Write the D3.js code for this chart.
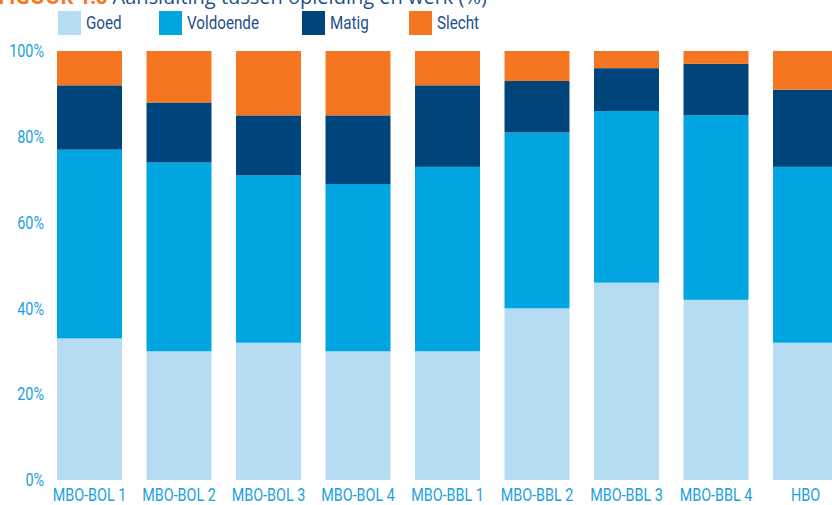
<!DOCTYPE html>
<meta charset="utf-8">
<style>
  body { margin: 0; background: #fff; }
  text { font-family: Roboto, "Noto Sans", sans-serif; }
</style>
<svg width="832" height="505"></svg>
<script src="https://d3js.org/d3.v7.min.js"></script>
<script>

var categories = ["MBO-BOL 1", "MBO-BOL 2", "MBO-BOL 3", "MBO-BOL 4", "MBO-BBL 1", "MBO-BBL 2", "MBO-BBL 3", "MBO-BBL 4", "HBO"];
var seriesNames = ["Goed", "Voldoende", "Matig", "Slecht"];
var goed      = [33, 30, 32, 30, 30, 40, 46, 42, 32];
var voldoende = [44, 44, 39, 39, 43, 41, 40, 43, 41];
var matig     = [15, 14, 14, 16, 19, 12, 10, 12, 18];
var slecht    = [ 8, 12, 15, 15,  8,  7,  4,  3,  9];
var yTicks = [0, 20, 40, 60, 80, 100];

var colors = ["#b5dcf3", "#00a5e2", "#00447c", "#f47621"];
var tickColor = "#1ba1dd";
var legendText = "#1e4f8a";
var squeeze = "scale(0.8,1)"; // the original uses a condensed face

var svg = d3.select("svg");

var rows = categories.map(function(c, i) {
  return { cat: c, Goed: goed[i], Voldoende: voldoende[i], Matig: matig[i], Slecht: slecht[i] };
});

var x = d3.scaleBand()
    .domain(categories)
    .range([44.75, 44.75 + 9 * 89.5])
    .paddingInner(0.274)
    .paddingOuter(0.137);

var y = d3.scaleLinear()
    .domain([0, 100])
    .range([480, 51]);

var layers = d3.stack().keys(seriesNames)(rows);

// title, mostly cut off at the top like the source
var title = svg.append("text")
    .attr("x", -2)
    .attr("y", 4)
    .style("font-family", "'Open Sans', sans-serif")
    .style("font-size", "20px");
title.append("tspan").attr("fill", "#f47621").attr("font-weight", "bold").text("FIGUUR 1.6 ");
title.append("tspan").attr("fill", "#1e4f8a").text("Aansluiting tussen opleiding en werk (%)");

// bars
svg.append("g")
  .selectAll("g")
  .data(layers)
  .enter().append("g")
    .attr("fill", function(d, i) { return colors[i]; })
  .selectAll("rect")
  .data(function(d) { return d; })
  .enter().append("rect")
    .attr("x", function(d) { return x(d.data.cat); })
    .attr("y", function(d) { return y(d[1]); })
    .attr("height", function(d) { return y(d[0]) - y(d[1]); })
    .attr("width", x.bandwidth());

// y axis labels
var yAxis = svg.append("g")
    .attr("transform", "translate(44,0)")
    .call(d3.axisLeft(y).tickValues(yTicks).tickSize(0).tickPadding(0)
      .tickFormat(function(d) { return d + "%"; }));
yAxis.select(".domain").remove();
yAxis.selectAll("text")
    .attr("fill", tickColor)
    .attr("transform", squeeze)
    .style("font-size", "18px");

// x axis labels
var xAxis = svg.append("g")
    .attr("transform", "translate(0,488)")
    .call(d3.axisBottom(x).tickSize(0).tickPadding(0));
xAxis.select(".domain").remove();
xAxis.selectAll("text")
    .attr("fill", tickColor)
    .attr("transform", squeeze)
    .style("font-size", "18px");

// legend
var legendX = [58, 159, 302, 409];
var legend = svg.append("g").selectAll("g")
    .data(seriesNames)
    .enter().append("g")
    .attr("transform", function(d, i) { return "translate(" + legendX[i] + ",11)"; });
legend.append("rect")
    .attr("width", 23)
    .attr("height", 24)
    .attr("fill", function(d, i) { return colors[i]; });
legend.append("g")
    .attr("transform", "translate(28,18)")
  .append("text")
    .attr("transform", squeeze)
    .attr("fill", legendText)
    .style("font-size", "19px")
    .text(function(d) { return d; });

</script>
